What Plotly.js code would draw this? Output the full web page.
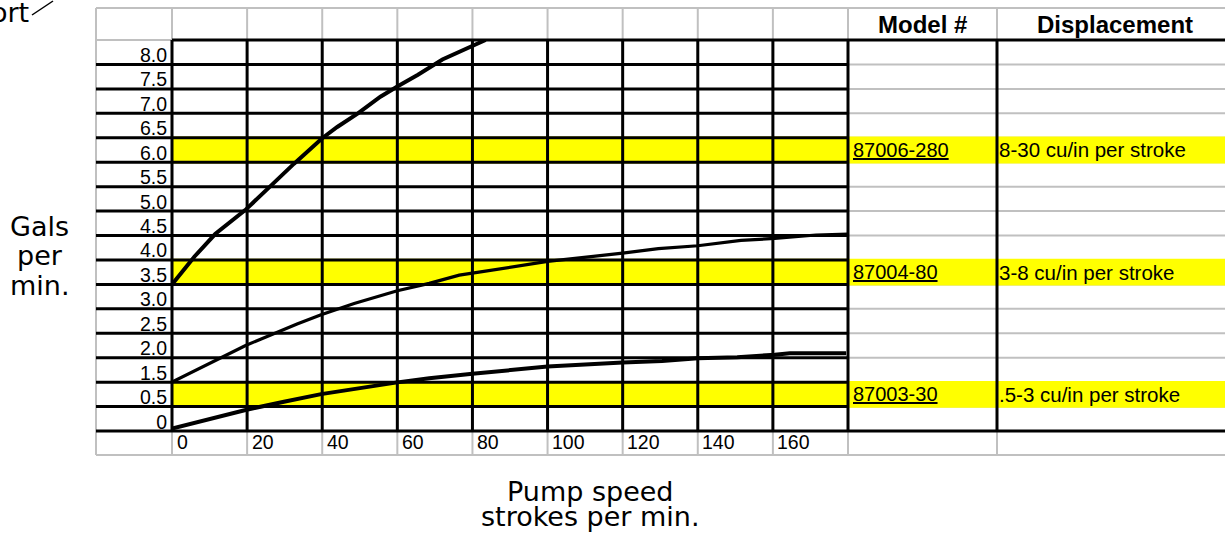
<!DOCTYPE html>
<html>
<head>
<meta charset="utf-8">
<script src="https://cdn.plot.ly/plotly-3.0.1.min.js"></script>
<style>html,body{margin:0;padding:0;background:#fff;}#chart{width:1225px;height:535px;}</style>
</head>
<body>
<div id="chart"></div>
<script>
// ---- data ----
const xTickVals = [0, 20, 40, 60, 80, 100, 120, 140, 160];
const xTickText = ["0", "20", "40", "60", "80", "100", "120", "140", "160"];
const yTickText = ["0", "0.5", "1.5", "2.0", "2.5", "3.0", "3.5", "4.0", "4.5", "5.0", "5.5", "6.0", "6.5", "7.0", "7.5", "8.0"];
const yRowGpm = [0, 0.5, 1.5, 2.0, 2.5, 3.0, 3.5, 4.0, 4.5, 5.0, 5.5, 6.0, 6.5, 7.0, 7.5, 8.0, 8.5];

const speed280 = [0, 6, 11.5, 19.5, 26.5, 32.5, 40, 44, 49.5, 55.5, 60, 65.5, 72, 76.5, 83.5];
const flow280 = [3.5, 4.07, 4.53, 5.02, 5.53, 5.97, 6.49, 6.72, 7.0, 7.34, 7.55, 7.79, 8.1, 8.26, 8.5];

const speed80 = [0, 19.6, 33.3, 39.7, 48.5, 60, 68.5, 76.5, 80, 100, 120, 129.5, 140, 151.5, 160.5, 171.5, 180];
const flow80 = [1.5, 2.25, 2.69, 2.88, 3.11, 3.37, 3.52, 3.69, 3.73, 3.97, 4.14, 4.23, 4.29, 4.4, 4.44, 4.51, 4.53];

const speed30 = [0, 19.6, 29.8, 39.7, 60, 68.5, 80, 100, 120, 130.5, 140, 150.5, 160.5, 164.5, 179.5];
const flow30 = [0.05, 0.43, 0.7, 1.01, 1.49, 1.58, 1.67, 1.82, 1.9, 1.93, 1.99, 2.01, 2.06, 2.09, 2.09];

const models = ["87006-280", "87004-80", "87003-30"];
const displacements = ["8-30 cu/in per stroke", "3-8 cu/in per stroke", ".5-3 cu/in per stroke"];
const modelRowGpm = [6.0, 3.5, 0.5];

// ---- helpers ----
// map gals/min onto the spreadsheet row scale (rows are not evenly valued)
function rowPos(g) {
  for (let i = 0; i < yRowGpm.length - 1; i++) {
    const a = yRowGpm[i], b = yRowGpm[i + 1];
    if (g <= b || i === yRowGpm.length - 2) return i + (g - a) / (b - a);
  }
}
const L = 172, T = 40, W = 676, H = 391, XMAX = 180, YMAX = 16;
const PX = p => (p - L) / W;          // pixel -> paper x
const PY = p => (T + H - p) / H;      // pixel -> paper y
const VX = v => v / XMAX;             // x value -> paper x
const RY = r => r / YMAX;             // row position -> paper y

const SS = "Liberation Sans, Arial, sans-serif";
const GT = "DejaVu Sans, sans-serif";
const GRAY = "#c0c0c0", BLACK = "#000000", YEL = "#ffff00";

const shapes = [];
function line(x0, y0, x1, y1, color, w) {
  shapes.push({type: "line", xref: "paper", yref: "paper", x0, y0, x1, y1, layer: "below",
    line: {color, width: w}});
}
const colLines = xTickVals.concat([180]).map(VX);
const tableMid = PX(997), rightEdge = PX(1230), labelLeft = PX(96);

// gray spreadsheet grid
line(labelLeft, PY(8), labelLeft, PY(455), GRAY, 2);
line(labelLeft, PY(8), rightEdge, PY(8), GRAY, 2);
line(labelLeft, PY(455), rightEdge, PY(455), GRAY, 2);
line(labelLeft, RY(16), 0, RY(16), GRAY, 2);
colLines.concat([tableMid]).forEach(x => {
  line(x, PY(8), x, RY(16), GRAY, 2);
  line(x, 0, x, PY(455), GRAY, 2);
});
for (let r = 1; r < 16; r++) line(1, RY(r), rightEdge, RY(r), GRAY, 2);

// yellow highlighted rows
modelRowGpm.forEach(g => {
  const r = rowPos(g);
  shapes.push({type: "rect", xref: "paper", yref: "paper", x0: 0, x1: rightEdge,
    y0: RY(r) - 1.2 / H, y1: RY(r + 1) + 1.2 / H, layer: "below",
    fillcolor: YEL, line: {width: 0}});
});

// black grid
for (let r = 1; r < 16; r++) line(labelLeft, RY(r), 1, RY(r), BLACK, 3);
line(labelLeft, 0, rightEdge, 0, BLACK, 3);
line(0, 1, rightEdge, 1, BLACK, 3);
colLines.forEach(x => line(x, 0, x, 1, BLACK, 3));
line(tableMid, 0, tableMid, 1, BLACK, 3);
// small stroke next to the cut-off label at top left
line(PX(32), PY(15), PX(53), PY(1), BLACK, 1.5);

// ---- annotations ----
const ann = [];
xTickVals.forEach((v, i) => ann.push({xref: "x", yref: "paper", x: v, y: PY(442.5), xanchor: "left",
  yanchor: "middle", xshift: 2.5, text: xTickText[i], showarrow: false, font: {family: SS, size: 19.5, color: "#000"}}));

ann.push({xref: "paper", yref: "paper", x: PX(922), y: PY(25), text: "<b>Model #</b>", showarrow: false,
  xanchor: "center", yanchor: "middle", font: {family: SS, size: 24, color: "#000"}});
ann.push({xref: "paper", yref: "paper", x: PX(1115), y: PY(25), text: "<b>Displacement</b>", showarrow: false,
  xanchor: "center", yanchor: "middle", font: {family: SS, size: 24, color: "#000"}});
models.forEach((m, i) => {
  const r = rowPos(modelRowGpm[i]) + 0.5;
  ann.push({xref: "paper", yref: "y", x: PX(851), y: r, text: "<u>" + m + "</u>", showarrow: false,
    xanchor: "left", yanchor: "middle", font: {family: SS, size: 20, color: "#000"}});
  ann.push({xref: "paper", yref: "y", x: PX(997), y: r, text: displacements[i], showarrow: false,
    xanchor: "left", yanchor: "middle", font: {family: SS, size: 20.5, color: "#000"}});
});

const gtFont = {family: GT, size: 27, color: "#000"};
[["Gals", 226.5], ["per", 255.5], ["min.", 285.5]].forEach(([t, y]) =>
  ann.push({xref: "paper", yref: "paper", x: PX(39.5), y: PY(y), text: t, showarrow: false,
    xanchor: "center", yanchor: "middle", font: gtFont}));
[["Pump speed", 491], ["strokes per min.", 516.5]].forEach(([t, y]) =>
  ann.push({xref: "paper", yref: "paper", x: PX(590), y: PY(y), text: t, showarrow: false,
    xanchor: "center", yanchor: "middle", font: gtFont}));
ann.push({xref: "paper", yref: "paper", x: PX(31), y: PY(12.5), text: "ort", showarrow: false,
  xanchor: "right", yanchor: "middle", font: gtFont});

// ---- traces ----
function curve(xs, ys, w) {
  return {type: "scatter", mode: "lines", x: xs, y: ys.map(rowPos), cliponaxis: false,
    line: {color: "#000", width: w}, hoverinfo: "skip", showlegend: false};
}
const data = [curve(speed280, flow280, 4), curve(speed80, flow80, 3.2), curve(speed30, flow30, 4)];

const layout = {
  width: 1225, height: 535, autosize: false,
  margin: {l: L, r: 1225 - L - W, t: T, b: 535 - T - H, pad: 0},
  paper_bgcolor: "#ffffff", plot_bgcolor: "rgba(0,0,0,0)",
  showlegend: false,
  xaxis: {range: [0, XMAX], showgrid: false, zeroline: false, showline: false,
    showticklabels: false, ticks: "", fixedrange: true},
  yaxis: {range: [0, YMAX], showgrid: false, zeroline: false, showline: false, ticks: "",
    tickmode: "array", tickvals: yTickText.map((t, i) => i + 0.38), ticktext: yTickText,
    ticklabelstandoff: 4,
    tickfont: {family: SS, size: 19.5, color: "#000"}, fixedrange: true},
  shapes: shapes,
  annotations: ann
};
Plotly.newPlot("chart", data, layout, {displayModeBar: false, staticPlot: true});
</script>
</body>
</html>
